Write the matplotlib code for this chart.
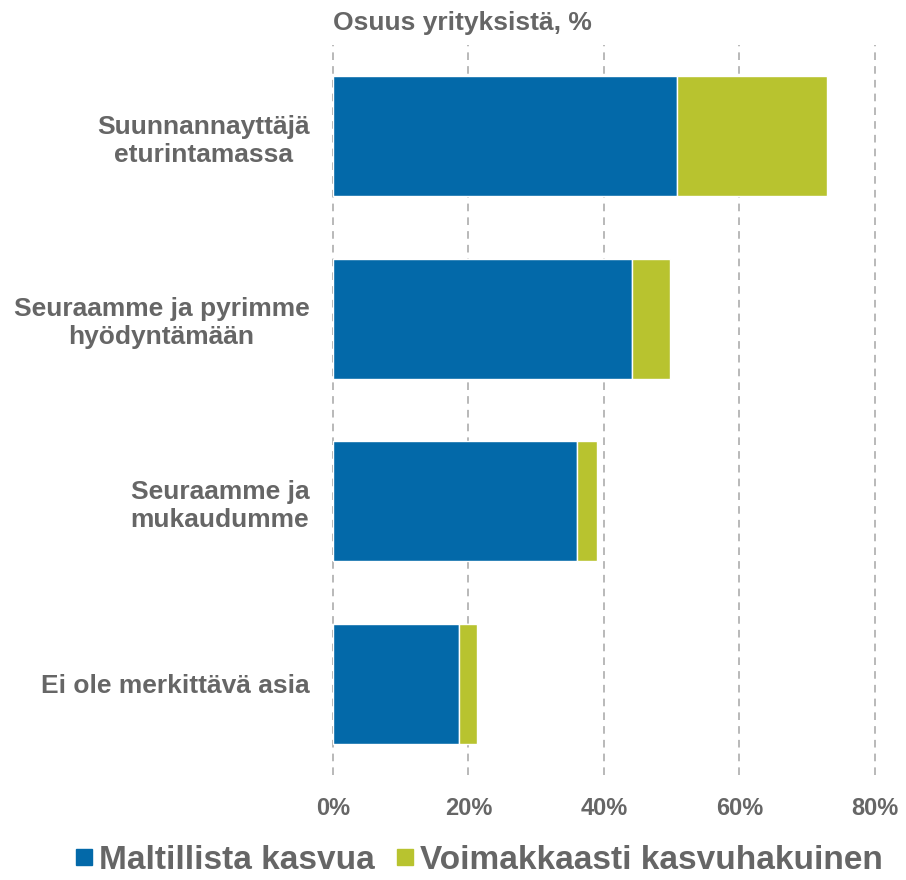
import numpy as np
import matplotlib.pyplot as plt
from matplotlib.lines import Line2D

plt.rcParams['font.family'] = ['Liberation Sans', 'DejaVu Sans']
plt.rcParams['font.weight'] = 'bold'

categories = ["Suunnannayttäjä\neturintamassa",
              "Seuraamme ja pyrimme\nhyödyntämään",
              "Seuraamme ja\nmukaudumme",
              "Ei ole merkittävä asia"]
maltillinen = [50.8, 44.1, 36.0, 18.6]
voimakas = [22.1, 5.6, 3.0, 2.7]
series_names = ["Maltillista kasvua", "Voimakkaasti kasvuhakuinen"]
xticks = [0, 20, 40, 60, 80]

blue = '#0369a9'
green = '#b8c32f'
grey = '#666666'

fig = plt.figure(figsize=(9.06, 8.8), dpi=100)
ax = fig.add_axes([0.3675, 0.1193, 0.5983, 0.8296])

y = np.arange(len(categories))
ax.barh(y, maltillinen, height=0.656, color=blue, edgecolor='white', linewidth=1, zorder=3)
ax.barh(y, voimakas, left=maltillinen, height=0.656, color=green, edgecolor='white', linewidth=1, zorder=3)

ax.set_ylim(len(categories) - 0.5, -0.5)
ax.set_xlim(0, 80)
ax.set_yticks(y)
ax.set_yticklabels(categories, fontsize=19, color=grey, ha='right', multialignment='center')
ax.set_xticks(xticks)
ax.set_xticklabels([f"{t}%" for t in xticks], fontsize=17, color=grey)
ax.tick_params(axis='y', length=0, pad=17)
ax.tick_params(axis='x', length=0, pad=16)

for t in xticks:
    ax.axvline(t, color='#a6a6a6', lw=1.1, linestyle=(0, (5, 4)), zorder=1, clip_on=False)
for s in ax.spines.values():
    s.set_visible(False)

fig.text(0.3675, 0.974, "Osuus yrityksistä, %", fontsize=19, color=grey, va='center', ha='left')

handles = [Line2D([], [], marker='s', linestyle='none', markersize=12, color=c) for c in (blue, green)]
fig.legend(handles, series_names, loc='center', bbox_to_anchor=(0.528, 0.022), ncol=2, frameon=False,
           fontsize=24, labelcolor=grey, handlelength=0.6, handletextpad=0.15, columnspacing=0.6)

fig.savefig('out.png', dpi=100)
